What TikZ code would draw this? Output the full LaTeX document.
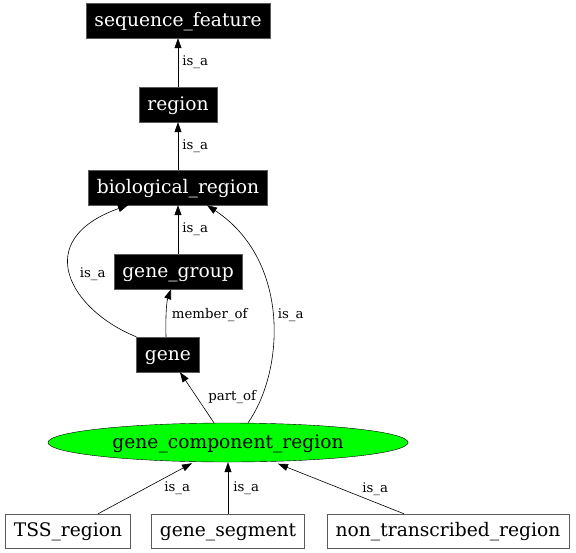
\documentclass[tikz,border=0pt]{standalone}
\usepackage{fontspec}
\setmainfont{DejaVu Serif}
\usetikzlibrary{arrows.meta,calc,positioning,shapes.geometric}
\definecolor{GeneGreen}{RGB}{0,255,0}
\definecolor{BoxGray}{RGB}{90,90,90}

\begin{document}
\begin{tikzpicture}[x=1pt,y=-1pt,
  termbox/.style={rectangle,draw=BoxGray,fill=black,text=white,inner xsep=8.5pt,minimum height=35pt,
    text height=15pt,text depth=4pt,font=\fontsize{18.67}{20}\selectfont},
  leafbox/.style={termbox,fill=white,text=black,minimum height=34pt},
  rel/.style={-{Triangle[length=10pt,width=7pt]},line width=0.6pt},
  lbl/.style={font=\fontsize{13.33}{14}\selectfont,inner sep=1pt,anchor=west}]
\useasboundingbox (0,0) rectangle (576,552);
% terms
\node[termbox] (seqf) at (178,20.5){sequence\_feature};
\node[termbox] (region) at (178,104.5){region};
\node[termbox] (bio) at (178,187.5){biological\_region};
\node[termbox] (gg) at (178,271.5){gene\_group};
\node[termbox] (gene) at (168,354.5){gene};
\node[ellipse,draw=black,fill=GeneGreen,minimum width=360pt,minimum height=39pt,inner sep=0pt,
  text height=15pt,text depth=4pt,font=\fontsize{18.67}{20}\selectfont] (gcr) at (228,442.5){gene\_component\_region};
\node[leafbox] (tss) at (68,531){TSS\_region};
\node[leafbox] (gseg) at (228,531){gene\_segment};
\node[leafbox] (ntr) at (448,531){non\_transcribed\_region};
% is_a chain
\foreach \a/\b in {region/seqf,bio/region,gg/bio}{
\draw[rel] (\a.north)--node[lbl,xshift=3pt]{is\_a} (\b.south);}
\draw[rel] ([xshift=-2pt]gene.north) .. controls (165.5,316) and (166.5,302) .. node[lbl,xshift=4pt,yshift=-5pt]{member\_of} ([xshift=-7pt]gg.south);
\draw[rel] (gene.north west) .. controls (70,310) and (30,240) .. node[lbl,xshift=8pt]{is\_a} ([xshift=-50pt]bio.south);
\draw[rel] ([xshift=20pt]gcr.north) .. controls (285,370) and (290,260) .. node[lbl,xshift=4pt]{is\_a} ([xshift=29pt]bio.south);
\draw[rel] ([xshift=-14pt]gcr.north)--node[lbl,xshift=10pt]{part\_of} ([xshift=12pt]gene.south);
\draw[rel] ([xshift=30pt]tss.north)--node[lbl,xshift=18pt]{is\_a} ([xshift=-36pt,yshift=-1pt]gcr.south);
\draw[rel] (gseg.north)--node[lbl,xshift=4pt]{is\_a} (gcr.south);
\draw[rel] ([xshift=-44pt]ntr.north)--node[lbl,xshift=20pt]{is\_a} ([xshift=50pt,yshift=-1.5pt]gcr.south);
\end{tikzpicture}
\end{document}
